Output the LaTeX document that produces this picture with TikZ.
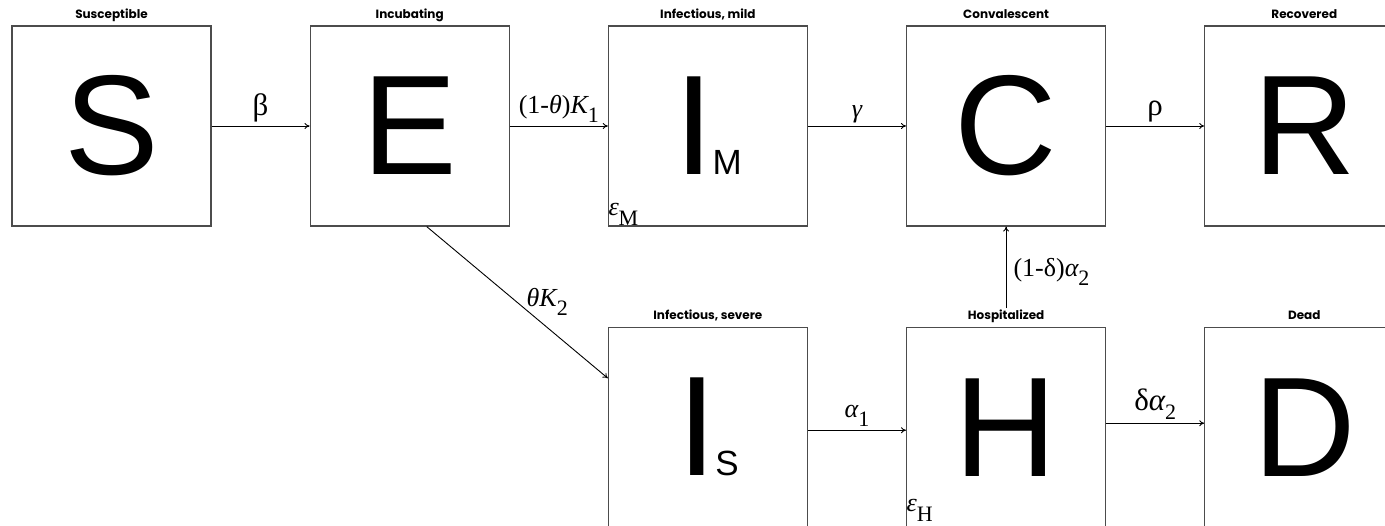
\documentclass[tikz,border=0pt]{standalone}
\usepackage{fontspec}
\setmainfont{Liberation Serif}
\newfontfamily\lettfont{Liberation Sans}
\newfontfamily\ttlfont{Poppins}
\usetikzlibrary{arrows.meta, positioning}

% subscript for rates and compartment letters
\newcommand{\rsub}[2][9pt]{\raisebox{-#1}{\fontsize{22pt}{22pt}\selectfont #2}}
\newcommand{\csub}[1]{\kern-1pt{\fontsize{35pt}{35pt}\selectfont #1}}
\newcommand{\bigsym}[1]{{\fontsize{31pt}{31pt}\selectfont #1}}

\begin{document}
\begin{tikzpicture}[
      node distance=100pt and 98pt,
      box/.style={draw=black!70, line width=1.2pt, minimum width=199pt,
                  minimum height=200pt, inner sep=0pt,
                  font=\lettfont\fontsize{142pt}{142pt}\selectfont},
      ttl/.style={font=\ttlfont\bfseries\fontsize{12pt}{14pt}\selectfont,
                  inner sep=1pt, text height=10pt, text depth=3pt},
      rate/.style={font=\fontsize{26pt}{28pt}\selectfont, inner sep=3pt},
      eps/.style={anchor=south west, inner sep=0.5pt, font=\fontsize{26pt}{26pt}\selectfont},
      arr/.style={-{To[length=5pt,width=6pt]}, line width=0.9pt}
    ]
    \useasboundingbox (-111.5pt,-400pt) rectangle (1273.5pt,126pt);

    % top row
    \node[box] (S) at (0,0) {S};
    \node[box, right=of S]  (E)  {E};
    \node[box, right=of E]  (IM) {I\csub{M}};
    \node[box, right=of IM] (C)  {C};
    \node[box, right=of C]  (R)  {R};
    % bottom row
    \node[box, below=of IM] (IS) {I\csub{S}};
    \node[box, below=of C]  (H)  {H};
    \node[box, below=of R]  (D)  {D};

    % titles
    \node[ttl, above=3pt of S]  (tS)  {Susceptible};
    \node[ttl, above=3pt of E]  (tE)  {Incubating};
    \node[ttl, above=3pt of IM] (tIM) {Infectious, mild};
    \node[ttl, above=3pt of C]  (tC)  {Convalescent};
    \node[ttl, above=3pt of R]  (tR)  {Recovered};
    \node[ttl, above=3pt of IS] (tIS) {Infectious, severe};
    \node[ttl, above=3pt of H]  (tH)  {Hospitalized};
    \node[ttl, above=3pt of D]  (tD)  {Dead};

    % epsilon marks
    \node[eps] (eM) at (IM.south west) {{\itshape ε}\rsub[10pt]{M}};
    \node[eps, yshift=6pt] (eH) at (H.south west)  {{\itshape ε}\rsub[10pt]{H}};

    % flows
    \draw[arr] (S)  -- node[rate, above] {\bigsym{β}} (E);
    \draw[arr] (E)  -- node[rate, above] {(1-{\itshape θ}){\itshape K}\rsub{1}} (IM);
    \draw[arr] (IM) -- node[rate, above] {{\itshape γ}} (C);
    \draw[arr] (C)  -- node[rate, above] {\bigsym{ρ}} (R);
    \draw[arr] ([xshift=17pt]E.south) -- node[rate, right, xshift=6pt]
      {{\itshape θK}\rsub{2}} ([yshift=49pt]IS.west);
    \draw[arr] ([yshift=-3pt]IS.east) -- node[rate, above] {{\itshape α}\rsub{1}} ([yshift=-3pt]H.west);
    \draw[arr] ([yshift=4pt]H.east) -- node[rate, above] {\bigsym{δ{\itshape α}}\rsub{2}} ([yshift=4pt]D.west);
    \draw[arr] (tH) -- node[rate, right, pos=0.45, xshift=4pt]
      {(1-δ){\itshape α}\rsub{2}} (C);
  \end{tikzpicture}
\end{document}
